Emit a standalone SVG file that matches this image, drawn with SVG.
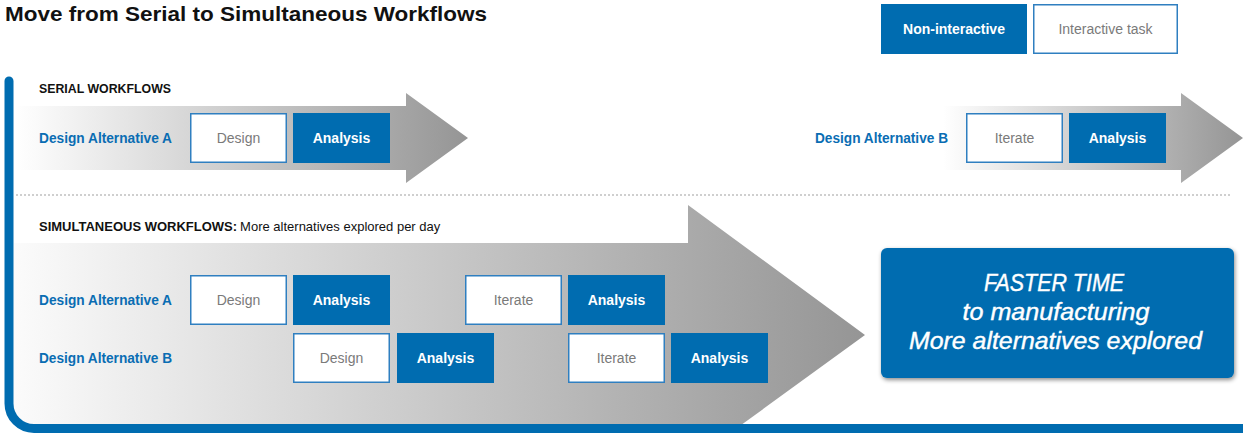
<svg xmlns="http://www.w3.org/2000/svg" width="1243" height="434" viewBox="0 0 1243 434">
<style>
.t{font-family:"Liberation Sans",Arial,sans-serif}
.title{font-size:21px;font-weight:bold;fill:#111}
.sec{font-size:13px;font-weight:bold;fill:#111}
.secr{font-size:13px;font-weight:normal;fill:#111}
.lbl{font-size:14px;font-weight:bold;fill:#0a6db3}
.wbox{fill:#fff;stroke:#2f7fc0;stroke-width:1.5}
.bbox{fill:#006cb0}
.wtxt{font-size:14px;fill:#7a7a7a;text-anchor:middle}
.btxt{font-size:14px;font-weight:bold;fill:#fff;text-anchor:middle}
.res{font-size:24px;font-style:italic;fill:#fff;text-anchor:middle;stroke:#fff;stroke-width:0.4}
</style>
<defs>
<linearGradient id="gA" gradientUnits="userSpaceOnUse" x1="15" y1="0" x2="468" y2="0">
<stop offset="0" stop-color="#ffffff"/><stop offset="1" stop-color="#959595"/>
</linearGradient>
<linearGradient id="gB" gradientUnits="userSpaceOnUse" x1="943" y1="0" x2="1243" y2="0">
<stop offset="0" stop-color="#ffffff"/><stop offset="1" stop-color="#959595"/>
</linearGradient>
<linearGradient id="gS" gradientUnits="userSpaceOnUse" x1="15" y1="0" x2="865" y2="0">
<stop offset="0" stop-color="#fbfbfb"/><stop offset="1" stop-color="#959595"/>
</linearGradient>
<filter id="sh" x="-10%" y="-10%" width="120%" height="130%">
<feDropShadow dx="1" dy="2" stdDeviation="2" flood-color="#000" flood-opacity="0.45"/>
</filter>
</defs>
<rect width="1243" height="434" fill="#fff"/>

<text class="t title" x="5" y="21" textLength="482" lengthAdjust="spacingAndGlyphs">Move from Serial to Simultaneous Workflows</text>

<g id="arrows">
<polygon points="14,106 406,106 406,93 468,138 406,183 406,170 14,170" fill="url(#gA)"/>
<polygon points="943,106 1181,106 1181,93 1243,138 1181,183 1181,170 943,170" fill="url(#gB)"/>
<polygon points="14,243 688,243 688,205 865,335 742.5,424 14,424" fill="url(#gS)"/>
<line x1="16" y1="195" x2="1232" y2="195" stroke="#cfcfcf" stroke-width="2" stroke-dasharray="2,2"/>
</g>

<g id="legend">
<g id="legend-noninteractive"><rect class="bbox" x="881" y="4" width="146" height="50"/><text class="t btxt" x="954" y="34">Non-interactive</text></g>
<g id="legend-interactive"><rect class="wbox" x="1033.75" y="4.75" width="143.5" height="48.5"/><text class="t wtxt" x="1105.5" y="34">Interactive task</text></g>
</g>

<text class="t sec" x="39" y="93" textLength="132" lengthAdjust="spacingAndGlyphs">SERIAL WORKFLOWS</text>
<text class="t" x="39" y="231"><tspan class="sec">SIMULTANEOUS WORKFLOWS:</tspan><tspan class="secr" dx="3">More alternatives explored per day</tspan></text>

<g id="serial-a">
<text class="t lbl" x="39" y="143" textLength="133" lengthAdjust="spacingAndGlyphs">Design Alternative A</text>
<g id="serial-a-design"><rect class="wbox" x="190.75" y="113.75" width="95.5" height="48.5"/><text class="t wtxt" x="238.5" y="143">Design</text></g>
<g id="serial-a-analysis"><rect class="bbox" x="293" y="113" width="97" height="50"/><text class="t btxt" x="341.5" y="143">Analysis</text></g>
</g>

<g id="serial-b">
<text class="t lbl" x="815" y="143" textLength="133" lengthAdjust="spacingAndGlyphs">Design Alternative B</text>
<g id="serial-b-iterate"><rect class="wbox" x="966.75" y="113.75" width="95.5" height="48.5"/><text class="t wtxt" x="1014.5" y="143">Iterate</text></g>
<g id="serial-b-analysis"><rect class="bbox" x="1069" y="113" width="97" height="50"/><text class="t btxt" x="1117.5" y="143">Analysis</text></g>
</g>

<g id="sim-a">
<text class="t lbl" x="39" y="305" textLength="133" lengthAdjust="spacingAndGlyphs">Design Alternative A</text>
<g id="sim-a-design"><rect class="wbox" x="190.75" y="275.75" width="95.5" height="48.5"/><text class="t wtxt" x="238.5" y="305">Design</text></g>
<g id="sim-a-analysis1"><rect class="bbox" x="293" y="275" width="97" height="50"/><text class="t btxt" x="341.5" y="305">Analysis</text></g>
<g id="sim-a-iterate"><rect class="wbox" x="465.75" y="275.75" width="95.5" height="48.5"/><text class="t wtxt" x="513.5" y="305">Iterate</text></g>
<g id="sim-a-analysis2"><rect class="bbox" x="568" y="275" width="97" height="50"/><text class="t btxt" x="616.5" y="305">Analysis</text></g>
</g>

<g id="sim-b">
<text class="t lbl" x="39" y="363" textLength="133" lengthAdjust="spacingAndGlyphs">Design Alternative B</text>
<g id="sim-b-design"><rect class="wbox" x="293.75" y="333.75" width="95.5" height="48.5"/><text class="t wtxt" x="341.5" y="363">Design</text></g>
<g id="sim-b-analysis1"><rect class="bbox" x="397" y="333" width="97" height="50"/><text class="t btxt" x="445.5" y="363">Analysis</text></g>
<g id="sim-b-iterate"><rect class="wbox" x="568.75" y="333.75" width="95.5" height="48.5"/><text class="t wtxt" x="616.5" y="363">Iterate</text></g>
<g id="sim-b-analysis2"><rect class="bbox" x="671" y="333" width="97" height="50"/><text class="t btxt" x="719.5" y="363">Analysis</text></g>
</g>

<g id="result">
<rect x="881" y="248" width="353" height="130" rx="6" fill="#006cb0" filter="url(#sh)"/>
<text class="t res" x="1054" y="291" textLength="140" lengthAdjust="spacingAndGlyphs">FASTER TIME</text>
<text class="t res" x="1056" y="320" textLength="187" lengthAdjust="spacingAndGlyphs">to manufacturing</text>
<text class="t res" x="1055.5" y="349" textLength="293" lengthAdjust="spacingAndGlyphs">More alternatives explored</text>
</g>

<g id="frame">
<path d="M9,81 V403.5 A25,25 0 0 0 34,428.5 H1243" fill="none" stroke="#006cb0" stroke-width="9" stroke-linecap="round"/>
</g>
</svg>
